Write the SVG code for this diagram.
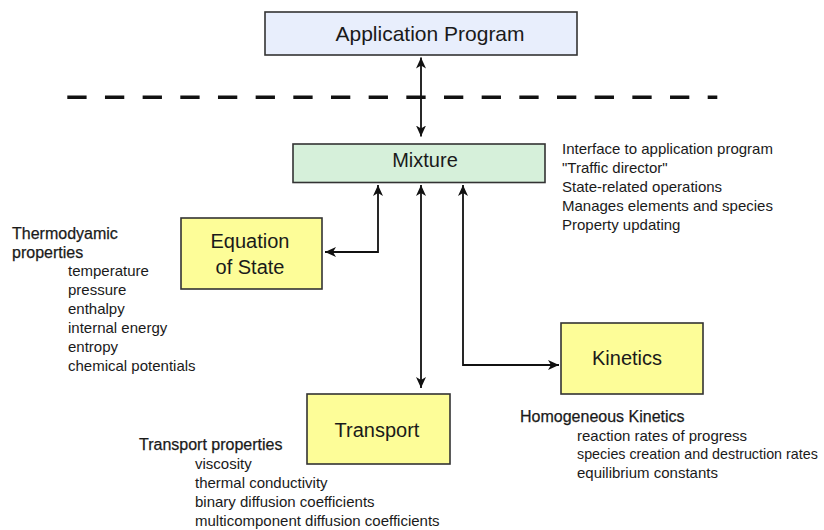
<svg xmlns="http://www.w3.org/2000/svg" width="824" height="530" viewBox="0 0 824 530">
<style>
.box{stroke:#333;stroke-width:1.6}
.lbl{font-family:"Liberation Sans",Arial,sans-serif;font-size:20px;fill:#1a1a1a;text-anchor:middle}
.t{font-family:"Liberation Sans",Arial,sans-serif;font-size:15px;fill:#1a1a1a}
.h{font-size:16px;stroke:#1a1a1a;stroke-width:0.25}
.con{fill:none;stroke:#111;stroke-width:1.8}
</style>
<defs>
<marker id="arr" markerUnits="userSpaceOnUse" markerWidth="12" markerHeight="12" refX="11" refY="6" orient="auto-start-reverse" viewBox="0 0 12 12">
<path d="M0,1 L11,6 L0,11 L3,6 z" fill="#111"/>
</marker>
</defs>
<rect width="824" height="530" fill="#fff"/>
<line x1="67.3" y1="97.3" x2="717.3" y2="97.3" stroke="#111" stroke-width="3.5" stroke-dasharray="19.3 18.37"/>
<g id="app">
<rect class="box" x="265" y="12" width="312" height="43" fill="#e8eefc"/>
<text class="lbl" x="430" y="41" style="font-size:21px">Application Program</text>
</g>
<g id="mixture">
<rect class="box" x="293" y="144" width="252" height="38.5" fill="#d6f0da"/>
<text class="lbl" x="425" y="167">Mixture</text>
</g>
<g id="mixture-notes">
<text class="t" x="562" y="154">Interface to application program</text>
<text class="t" x="562" y="173">"Traffic director"</text>
<text class="t" x="562" y="192">State-related operations</text>
<text class="t" x="562" y="211">Manages elements and species</text>
<text class="t" x="562" y="230">Property updating</text>
</g>
<g id="eos">
<rect class="box" x="181" y="218" width="141" height="71" fill="#fdfd98"/>
<text class="lbl" x="250" y="248">Equation</text>
<text class="lbl" x="250" y="274">of State</text>
</g>
<g id="eos-notes">
<text class="t h" x="12" y="239">Thermodyamic</text>
<text class="t h" x="12" y="258">properties</text>
<text class="t" x="68" y="276">temperature</text>
<text class="t" x="68" y="295">pressure</text>
<text class="t" x="68" y="314">enthalpy</text>
<text class="t" x="68" y="333">internal energy</text>
<text class="t" x="68" y="352">entropy</text>
<text class="t" x="68" y="371">chemical potentials</text>
</g>
<g id="transport">
<rect class="box" x="307" y="394" width="143" height="70" fill="#fdfd98"/>
<text class="lbl" x="377" y="437">Transport</text>
</g>
<g id="transport-notes">
<text class="t h" x="139" y="450">Transport properties</text>
<text class="t" x="195" y="469">viscosity</text>
<text class="t" x="195" y="488">thermal conductivity</text>
<text class="t" x="195" y="507">binary diffusion coefficients</text>
<text class="t" x="195" y="526">multicomponent diffusion coefficients</text>
</g>
<g id="kinetics">
<rect class="box" x="561" y="323" width="142" height="71" fill="#fdfd98"/>
<text class="lbl" x="627" y="365">Kinetics</text>
</g>
<g id="kinetics-notes">
<text class="t h" x="520" y="422">Homogeneous Kinetics</text>
<text class="t" x="577" y="441">reaction rates of progress</text>
<text class="t" x="577" y="459" style="font-size:14.3px">species creation and destruction rates</text>
<text class="t" x="577" y="478">equilibrium constants</text>
</g>
<g id="connectors">
<line class="con" x1="421" y1="57.5" x2="421" y2="136.5" marker-start="url(#arr)" marker-end="url(#arr)"/>
<path class="con" d="M378,185 V252 H325" marker-start="url(#arr)" marker-end="url(#arr)"/>
<line class="con" x1="421" y1="185" x2="421" y2="388" marker-start="url(#arr)" marker-end="url(#arr)"/>
<path class="con" d="M463,185 V365 H559" marker-start="url(#arr)" marker-end="url(#arr)"/>
</g>
</svg>
